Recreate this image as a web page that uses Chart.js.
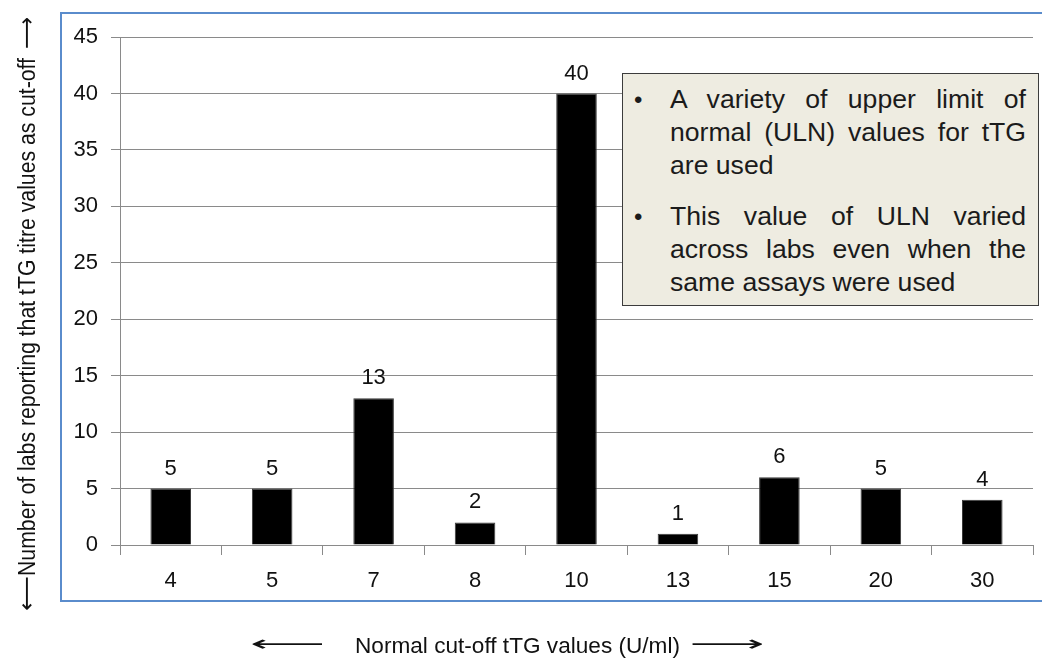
<!DOCTYPE html>
<html>
<head>
<meta charset="utf-8">
<script src="https://cdn.jsdelivr.net/npm/chart.js@4.4.1/dist/chart.umd.min.js"></script>
<style>
  html, body { margin: 0; padding: 0; background: #ffffff; }
  #wrap { position: relative; width: 1042px; height: 659px; overflow: hidden; }
  #frame {
    position: absolute; left: 60px; top: 12px; width: 1000px; height: 590px;
    border: 2px solid #5a8ccc; box-sizing: border-box;
  }
  #chart { position: absolute; left: 0; top: 0; }
  #note {
    position: absolute; left: 622px; top: 73px; width: 417px; height: 233px;
    box-sizing: border-box; border: 1.5px solid #3c3c3c; background: #eeece1;
    font-family: "Liberation Sans", Arial, sans-serif; font-size: 26.6px; color: #1b1b1b;
    padding: 9px 12px 0 0;
  }
  .item { position: relative; padding-left: 47px; line-height: 33px; }
  .item + .item { margin-top: 18px; }
  .dot { position: absolute; left: 11px; top: 0; font-size: 24px; }
  .j { display: block; text-align: justify; text-align-last: justify; white-space: nowrap; }
  .l { display: block; white-space: nowrap; }
</style>
</head>
<body>
<div id="wrap">
  <div id="frame"></div>
  <canvas id="chart" width="1042" height="659"></canvas>
  <div id="note"></div>
</div>
<script>
// Normal cut-off values (U/ml) and the number of labs using each one
const categories = ['4', '5', '7', '8', '10', '13', '15', '20', '30'];
const labCounts = [5, 5, 13, 2, 40, 1, 6, 5, 4];
const yTickMax = 45;
const yTickStep = 5;

const xTitle = 'Normal cut-off tTG values (U/ml)';
const yTitle = 'Number of labs reporting that tTG titre values as cut-off';

// Call-out notes, one array of lines per bullet
const noteBullets = [
  ['A variety of upper limit of', 'normal (ULN) values for tTG', 'are used'],
  ['This value of ULN varied', 'across labs even when the', 'same assays were used']
];

// Build the call-out box
const note = document.getElementById('note');
noteBullets.forEach(lines => {
  const item = document.createElement('div');
  item.className = 'item';
  const dot = document.createElement('span');
  dot.className = 'dot';
  dot.textContent = '•';
  item.appendChild(dot);
  lines.forEach((line, i) => {
    const s = document.createElement('span');
    s.className = i < lines.length - 1 ? 'j' : 'l';
    s.textContent = line;
    item.appendChild(s);
  });
  note.appendChild(item);
});

const FONT = '"Liberation Sans", Arial, sans-serif';
const GRID = '#8a8a8a';

// Draw text squeezed or stretched horizontally to a given width
function fitText(ctx, text, x, y, width) {
  const w = ctx.measureText(text).width;
  ctx.save();
  ctx.translate(x, y);
  ctx.scale(width / w, 1);
  ctx.fillText(text, 0, 0);
  ctx.restore();
}

const valueLabels = {
  id: 'valueLabels',
  afterDatasetsDraw(chart) {
    const ctx = chart.ctx;
    const meta = chart.getDatasetMeta(0);
    ctx.save();
    ctx.font = '22px ' + FONT;
    ctx.fillStyle = '#111';
    ctx.textAlign = 'center';
    ctx.textBaseline = 'middle';
    meta.data.forEach((bar, i) => {
      ctx.fillText(String(labCounts[i]), bar.x, bar.y - 20);
    });
    ctx.restore();
  }
};

const axisTitles = {
  id: 'axisTitles',
  afterDraw(chart) {
    const ctx = chart.ctx;
    ctx.save();
    ctx.fillStyle = '#111';
    ctx.textAlign = 'left';
    ctx.textBaseline = 'alphabetic';

    // horizontal title with arrows on both sides
    ctx.font = '22px ' + FONT;
    fitText(ctx, xTitle, 355, 653, 325);
    ctx.font = '22px "DejaVu Sans", sans-serif';
    fitText(ctx, '\u27F5', 250, 651, 75);
    fitText(ctx, '\u27F6', 690, 651, 75);

    // vertical title, reading bottom to top
    ctx.translate(35, 0);
    ctx.rotate(-Math.PI / 2);
    ctx.font = '23px ' + FONT;
    fitText(ctx, yTitle, -576, 0, 518);
    ctx.font = '23px "DejaVu Sans", sans-serif';
    fitText(ctx, '\u27F5', -611, -1, 35);
    fitText(ctx, '\u27F6', -49, -1, 32);
    ctx.restore();
  }
};

new Chart(document.getElementById('chart'), {
  type: 'bar',
  data: {
    labels: categories,
    datasets: [{
      data: labCounts,
      backgroundColor: '#000000',
      borderColor: '#3a3a3a',
      borderWidth: 1,
      barPercentage: 0.4,
      categoryPercentage: 1.0
    }]
  },
  options: {
    responsive: false,
    animation: false,
    events: [],
    layout: { padding: { left: 0, right: 9, top: 37, bottom: 0 } },
    plugins: { legend: { display: false }, tooltip: { enabled: false } },
    scales: {
      x: {
        afterFit(scale) { scale.height = 114; },
        grid: {
          drawOnChartArea: false, drawTicks: true, tickLength: 10,
          color: GRID, offset: true
        },
        border: { display: true, color: GRID, width: 1 },
        ticks: { color: '#111', font: { family: FONT, size: 22 }, padding: 13, maxRotation: 0 }
      },
      y: {
        min: 0,
        max: yTickMax,
        afterFit(scale) { scale.width = 120; },
        grid: { color: GRID, lineWidth: 1, drawTicks: true, tickLength: 9 },
        border: { display: true, color: GRID, width: 1 },
        ticks: { stepSize: yTickStep, color: '#111', font: { family: FONT, size: 22 }, padding: 13 }
      }
    }
  },
  plugins: [valueLabels, axisTitles]
});
</script>
</body>
</html>
